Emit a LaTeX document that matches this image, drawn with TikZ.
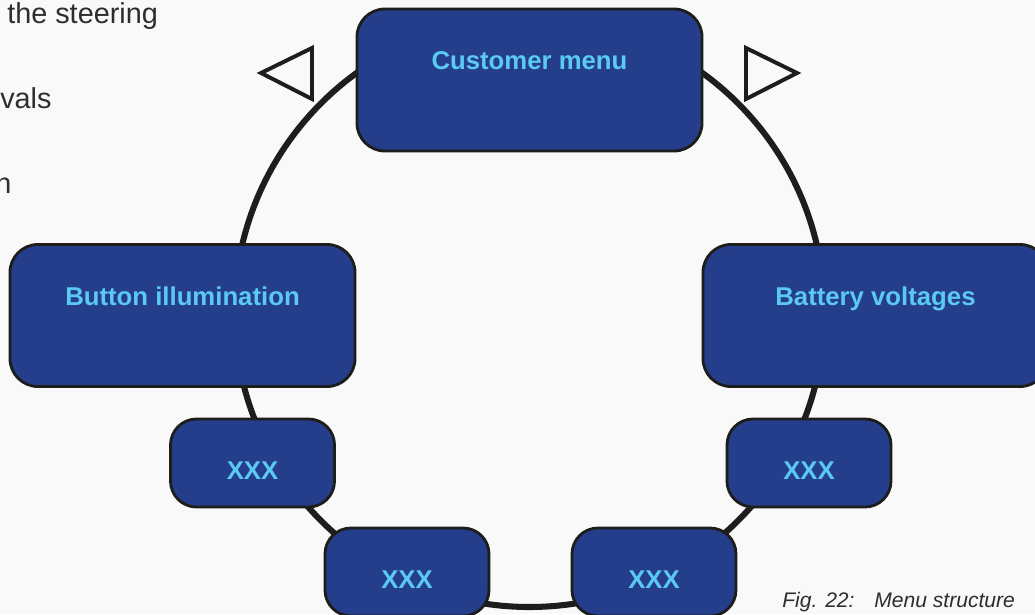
\documentclass[tikz,border=0pt]{standalone}
\usepackage{fontspec}
\setmainfont{Liberation Sans}
\usepackage{tikz}
\usetikzlibrary{positioning,calc}
\definecolor{menu}{HTML}{243E8C}
\definecolor{caption}{HTML}{5BC9F2}
\definecolor{ink}{HTML}{1D1D1B}
\definecolor{body}{HTML}{2E2E2E}
\definecolor{paper}{HTML}{F9F9F9}

\begin{document}
\begin{tikzpicture}[x=0.025cm, y=-0.025cm,
      menubox/.style={draw=ink, fill=menu, line width=2pt,
      rounded corners=0.7cm},
      bigbox/.style={menubox, minimum width=8.625cm, minimum
      height=3.55cm},
      smallbox/.style={menubox, minimum width=4.1cm, minimum
      height=2.2cm, rounded corners=0.65cm},
      lbl/.style={font=\bfseries\fontsize{18.3}{20}\selectfont,
      text=caption, anchor=base, inner sep=0pt},
      ring/.style={draw=ink, line width=4.3pt},
      navtri/.style={draw=ink, line width=2.8pt},
      bodytxt/.style={font=\fontsize{20.5}{24}\selectfont, text=body,
      anchor=base west, inner sep=0pt},
    ]
    \useasboundingbox (0,0) rectangle (1035,614);
    \fill[paper] (0,0) rectangle (1035,614);
    \clip (0,0) rectangle (1035,614);

    % Text cut off on the left
    \node[bodytxt] (t1) at (7,23) {the steering};
    \node[bodytxt] (t2) at (0,108) {vals};
    \node[bodytxt] (t3) at (-5,193) {n};

    % Ring
    \coordinate (hub) at (529.5,312);
    \draw[ring] (hub) circle[radius=295];

    % Arrows
    \draw[navtri] (261,73) -- (312,48) -- (312,99) -- cycle;
    \draw[navtri] (797,73) -- (746,48) -- (746,99) -- cycle;

    % Menu boxes
    \node[bigbox] (cust) at (529.5,80) {};
    \node[bigbox] (btn) at (182.5,315.5) {};
    \node[bigbox] (batt) at (875.5,315.5) {};
    \node[smallbox] (xl) at (252.5,463) {};
    \node[smallbox] (xr) at (809,463) {};
    \node[smallbox] (xbl) at (407,572) {};
    \node[smallbox] (xbr) at (654,572) {};

    \node[lbl] (cust-l) at ($(cust.north)+(0,62)$) {Customer menu};
    \node[lbl] (btn-l) at ($(btn.north)+(0,62)$) {Button illumination};
    \node[lbl] (batt-l) at ($(batt.north)+(0,62)$) {Battery voltages};
    \node[lbl] (xl-l) at ($(xl.north)+(0,62)$) {XXX};
    \node[lbl] (xr-l) at ($(xr.north)+(0,62)$) {XXX};
    \node[lbl] (xbl-l) at ($(xbl.north)+(0,62)$) {XXX};
    \node[lbl] (xbr-l) at ($(xbr.north)+(0,62)$) {XXX};

    % Caption
    \node[font=\itshape\fontsize{15}{18}\selectfont, text=body,
    anchor=base west, inner sep=0pt] (fig) at (782,607)
    {Fig. 22:\hspace{14pt}Menu structure};
  \end{tikzpicture}
\end{document}
